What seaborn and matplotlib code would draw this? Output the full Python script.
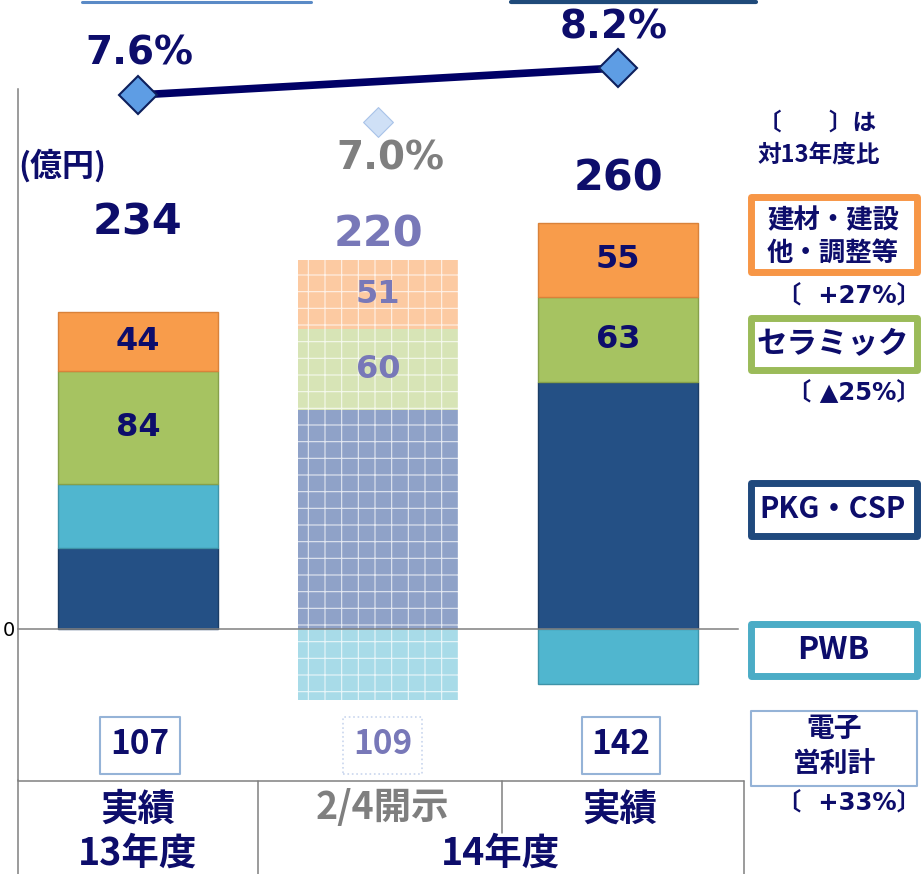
import matplotlib
matplotlib.use("Agg")
import matplotlib.pyplot as plt
import seaborn as sns
from matplotlib.patches import Rectangle
from matplotlib.lines import Line2D

# ------------------------------------------------------
# Data (億円)
# ------------------------------------------------------
PERIODS = ["13年度 実績", "14年度 2/4開示", "14年度 実績"]
PKG_CSP = [60, 162, 183]
PWB = [47, -53, -41]
CERAMIC = [84, 60, 63]
BUILDING = [44, 51, 55]
TOTALS = [234, 220, 260]
ELEC_TOTAL = [107, 109, 142]
MARGIN = [7.6, 7.0, 8.2]
CHANGES = ["〔  +27%〕", "〔 ▲25%〕", "〔  +33%〕"]

# ------------------------------------------------------
# Style
# ------------------------------------------------------
W, H = 924, 874
NAVY = "#0d0d6b"
GRAY = "#808080"
FADED = "#7878b8"
CJK = ["Noto Sans CJK JP", "DejaVu Sans"]

COL_ACT = {"pkg": "#245085", "pwb": "#50b6cf", "cer": "#a6c361", "bld": "#f89c4b"}
EDGE_ACT = {"pkg": "#1b3d66", "pwb": "#3f93a8", "cer": "#86a04a", "bld": "#d9823a"}
COL_FC = {"pkg": "#8fa2c8", "pwb": "#a8dbe8", "cer": "#d7e4b6", "bld": "#fccaa2"}

sns.set_style("white")
plt.rcParams["font.family"] = ["DejaVu Sans", "Noto Sans CJK JP"]
plt.rcParams["font.weight"] = "bold"
plt.rcParams["hatch.linewidth"] = 0.8

fig = plt.figure(figsize=(W / 100, H / 100), dpi=100)


def fx(x):
    return x / W


def fy(y):
    return 1 - y / H


def ftext(x, y, s, **kw):
    kw.setdefault("ha", "center")
    kw.setdefault("va", "center")
    kw.setdefault("color", NAVY)
    kw.setdefault("fontweight", "bold")
    fig.text(fx(x), fy(y), s, **kw)


def fbox(x0, y0, x1, y1, ec, lw, ls="-"):
    fig.add_artist(Rectangle((fx(x0), fy(y1)), (x1 - x0) / W, (y1 - y0) / H,
                             transform=fig.transFigure, facecolor="white",
                             edgecolor=ec, linewidth=lw, linestyle=ls,
                             joinstyle="round", zorder=1))


def fline(x0, y0, x1, y1, color=GRAY, lw=1.1):
    fig.add_artist(Line2D([fx(x0), fx(x1)], [fy(y0), fy(y1)],
                          transform=fig.transFigure, color=color, lw=lw))


# ------------------------------------------------------
# Stacked bars
# ------------------------------------------------------
ax = fig.add_axes([fx(18), fy(780), 720 / W, 691 / H])

pos_pwb = [max(v, 0) for v in PWB]
pwb_bottom = [p if v > 0 else 0 for p, v in zip(PKG_CSP, PWB)]
cer_bottom = [p + q for p, q in zip(PKG_CSP, pos_pwb)]
bld_bottom = [c + v for c, v in zip(cer_bottom, CERAMIC)]

segments = [
    ("pkg", PKG_CSP, [0, 0, 0]),
    ("pwb", PWB, pwb_bottom),
    ("cer", CERAMIC, cer_bottom),
    ("bld", BUILDING, bld_bottom),
]

for key, heights, bottoms in segments:
    sns.barplot(x=PERIODS, y=heights, order=PERIODS, bottom=bottoms,
                color=COL_ACT[key], saturation=1, width=0.667,
                edgecolor=EDGE_ACT[key], linewidth=1.0, zorder=2, ax=ax)
    fc_bar = ax.patches[-2]
    fc_bar.set_facecolor(COL_FC[key])
    fc_bar.set_edgecolor((1, 1, 1, 0.75))
    fc_bar.set_linewidth(0)
    fc_bar.set_hatch("+")

ax.set_xlim(-0.5, 2.5)
ax.set_ylim(-112, 400)
ax.set_xlabel("")
ax.set_ylabel("")
ax.set_xticks([0.5, 1.5, 2.5])
ax.set_xticklabels([])
ax.set_yticks([0, 150, 300])
ax.set_yticklabels(["0", "", ""], fontsize=14, fontweight="normal", color="black")
ax.tick_params(axis="y", direction="in", length=7, width=1.1, color=GRAY, pad=2)
ax.tick_params(axis="x", direction="in", length=6, width=1.1, color=GRAY)
for side in ["top", "right"]:
    ax.spines[side].set_visible(False)
ax.spines["bottom"].set_position(("data", 0))
for side in ["left", "bottom"]:
    ax.spines[side].set_color(GRAY)
    ax.spines[side].set_linewidth(1.1)
ax.patch.set_alpha(0)

# segment labels
for i in range(3):
    c = NAVY if i != 1 else FADED
    ax.text(i, cer_bottom[i] + CERAMIC[i] / 2, str(CERAMIC[i]), ha="center",
            va="center", fontsize=23, fontweight="bold", color=c, zorder=5)
    ax.text(i, bld_bottom[i] + BUILDING[i] / 2, str(BUILDING[i]), ha="center",
            va="center", fontsize=23, fontweight="bold", color=c, zorder=5)

# totals
TOTAL_Y = [301, 292, 334]
for i, t in enumerate(TOTALS):
    ax.text(i, TOTAL_Y[i], str(t), ha="center", va="center", fontsize=31,
            fontweight="bold", color=NAVY if i != 1 else FADED, zorder=5)

# ------------------------------------------------------
# Operating margin line
# ------------------------------------------------------
ax3 = fig.add_axes([fx(18), fy(780), 720 / W, 691 / H])
ax3.set_xlim(-0.5, 2.5)
ax3.set_ylim(-7.62, 7.733)
ax3.axis("off")

sns.lineplot(x=[0, 2], y=[MARGIN[0], MARGIN[2]], color="#000066",
             linewidth=5.5, marker="D", markersize=19, clip_on=False,
             ax=ax3, zorder=6)
for ln in ax3.lines:
    ln.set_markerfacecolor("#5e9de4")
    ln.set_markeredgecolor("#0d1f5c")
    ln.set_markeredgewidth(1.5)
sns.scatterplot(x=[1], y=[MARGIN[1]], marker="D", s=230, color="#cfe0f6",
                edgecolor="#a9c3e8", linewidth=0.8, clip_on=False, ax=ax3,
                zorder=6)

ax3.annotate(f"{MARGIN[0]}%", (0, MARGIN[0]), xytext=(1, 30),
             textcoords="offset points", ha="center", va="center",
             fontsize=28, fontweight="bold", color=NAVY, annotation_clip=False)
ax3.annotate(f"{MARGIN[2]}%", (2, MARGIN[2]), xytext=(-3, 29),
             textcoords="offset points", ha="center", va="center",
             fontsize=28, fontweight="bold", color=NAVY, annotation_clip=False)
ax3.annotate(f"{MARGIN[1]}%", (1, MARGIN[1]), xytext=(9, -26),
             textcoords="offset points", ha="center", va="center",
             fontsize=28, fontweight="bold", color="#7f7f7f", annotation_clip=False)

# ------------------------------------------------------
# Boxes with electronic operating profit
# ------------------------------------------------------
box_x = [(100, 180), (343, 422), (582, 660)]
for i, (x0, x1) in enumerate(box_x):
    if i == 1:
        fbox(x0, 717, x1, 774, "#c9d6ee", 1.2, ls=":")
        col = FADED
    else:
        fbox(x0, 717, x1, 774, "#95b3d7", 1.5)
        col = NAVY
    ftext((x0 + x1) / 2, 745, str(ELEC_TOTAL[i]), fontsize=24, family=CJK, color=col)

# ------------------------------------------------------
# Bottom table
# ------------------------------------------------------
fline(18, 780, 18, 874)
fline(18, 781, 744, 781)
fline(258, 781, 258, 874)
fline(502, 781, 502, 833)
fline(744, 781, 744, 874)
ftext(138, 809, "実績", fontsize=27, family=CJK)
ftext(138, 853, "13年度", fontsize=27, family=CJK)
ftext(382, 807, "2/4開示", fontsize=27, family=CJK, color="#7f7f7f")
ftext(620, 809, "実績", fontsize=27, family=CJK)
ftext(500, 853, "14年度", fontsize=27, family=CJK)

# top edges of boxes cut off above the chart
fline(82, 1.5, 311, 1.5, color="#5a8ac6", lw=2.2)
fline(511, 1.5, 756, 1.5, color="#1f4a7a", lw=3)

# ------------------------------------------------------
# Unit and legend
# ------------------------------------------------------
ftext(62, 166, "(億円)", fontsize=23, family=CJK)
ftext(758, 123, "〔　　〕は", fontsize=17, family=CJK, ha="left")
ftext(758, 155, "対13年度比", fontsize=17, family=CJK, ha="left")

fbox(750.5, 196.5, 916.5, 271.5, "#f79646", 5)
ftext(833, 221, "建材・建設", fontsize=19, family=CJK)
ftext(833, 253, "他・調整等", fontsize=19, family=CJK)
ftext(921, 295, CHANGES[0], fontsize=17.5, ha="right")

fbox(750.5, 317.5, 916.5, 369.5, "#9bbb59", 5)
ftext(833, 344, "セラミック", fontsize=22, family=CJK)
ftext(921, 392, CHANGES[1], fontsize=17.5, ha="right")

fbox(750.5, 482.5, 916.5, 535.5, "#1f497d", 5)
ftext(833, 509, "PKG・CSP", fontsize=21, family=CJK)

fbox(750.5, 623.5, 916.5, 675.5, "#4bacc6", 5)
ftext(833, 650, "PWB", fontsize=23, family=CJK)

fbox(751, 711, 917, 786, "#95b3d7", 1.5)
ftext(834, 729, "電子", fontsize=20, family=CJK)
ftext(834, 765, "営利計", fontsize=20, family=CJK)
ftext(921, 802, CHANGES[2], fontsize=17.5, ha="right")

fig.savefig("out.png", dpi=100)
